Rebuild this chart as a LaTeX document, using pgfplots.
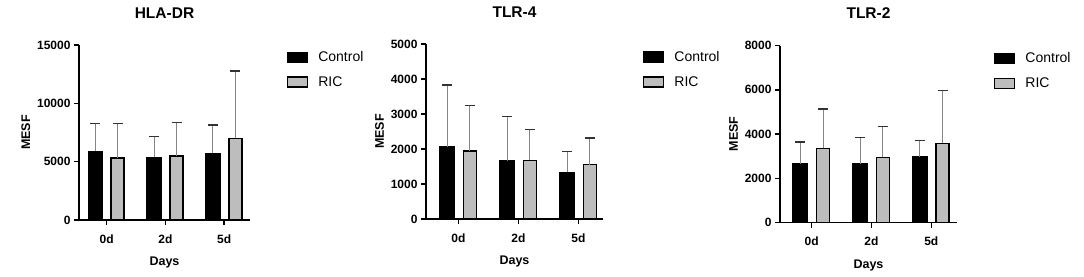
\documentclass[border=0pt]{standalone}
\usepackage{pgfplots}
\usepackage{pgfplotstable}
\pgfplotsset{compat=1.18}
\usepackage{fontspec}
\setmainfont{Liberation Sans}
\definecolor{ricgray}{HTML}{BDBDBD}
\definecolor{errgray}{HTML}{858585}

% columns: x, control mean, control SD (plus), RIC mean, RIC SD (plus)
\pgfplotstableread{
x cm ce rm re
0 5900 2390 5290 3000
1 5370 1780 5490 2880
2 5710 2430 7000 5770
}\hla
\pgfplotstableread{
x cm ce rm re
0 2057 1775 1943 1305
1 1655 1265 1676 880
2 1331 603 1552 765
}\tlrfour
\pgfplotstableread{
x cm ce rm re
0 2655 980 3352 1780
1 2655 1180 2945 1405
2 2972 745 3579 2385
}\tlrtwo

\pgfplotsset{
  panel/.style={
    scale only axis,
    axis x line*=bottom,
    axis y line*=left,
    axis line style={line width=1.5pt, -},
    every tick/.style={black, line width=1.5pt},
    major tick length=5pt,
    tick align=outside,
    ymin=0,
    xtick={0,1,2},
    xticklabels={0d,2d,5d},
    ticklabel style={font=\fontsize{12}{14}\selectfont\bfseries},
    xticklabel style={yshift=-6pt},
    /pgf/number format/assume math mode=true,
    /pgf/number format/1000 sep={},
    scaled y ticks=false,
    title style={at={(0.5,1)}, anchor=base, yshift=21pt, font=\fontsize{15.5}{18}\selectfont\bfseries},
    xlabel={Days},
    xlabel style={at={(0.5,0)}, anchor=base, yshift=-45.5pt, font=\fontsize{12.5}{15}\selectfont\bfseries},
    ylabel={MESF},
    ylabel style={font=\fontsize{12.5}{15}\selectfont\bfseries},
    legend style={draw=none, fill=none, anchor=north west,
      font=\fontsize{14}{16}\selectfont, row sep=9.5pt,
      /tikz/every odd column/.append style={column sep=8pt}},
    legend cell align=left,
    error bars/error bar style={line width=1pt, errgray},
    error bars/error mark options={rotate=90, mark size=5pt, line width=1.3pt, black!80},
  },
  ctrl/.style={ybar, bar width=14.5pt, bar shift=0pt, fill=black, draw=black, line width=1.2pt,
    error bars/.cd, y dir=plus, y explicit,
    /pgfplots/legend image code/.code={\draw[fill=black, draw=black, line width=1.3pt] (0pt,-5pt) rectangle (20pt,5pt);}},
  ric/.style={ybar, bar width=13pt, bar shift=0pt, fill=ricgray, draw=black, line width=1.6pt,
    error bars/.cd, y dir=plus, y explicit,
    /pgfplots/legend image code/.code={\draw[fill=ricgray, draw=black, line width=1.6pt] (0pt,-5pt) rectangle (20pt,5pt);}},
}

\begin{document}
\begin{tikzpicture}
\path[use as bounding box] (0,0) rectangle (1084pt,276pt);

\begin{axis}[panel, at={(79pt,56pt)}, anchor=south west, width=171pt, height=175pt,
  xmin=-0.47, xmax=2.44,
  ymax=15000, ytick={0,5000,10000,15000}, title={HLA-DR},
  legend style={at={(1.196,0.987)}}]
\addplot[ctrl] table[x expr=\thisrow{x}-0.19, y=cm, y error=ce]{\hla};
\addplot[ric] table[x expr=\thisrow{x}+0.19, y=rm, y error=re]{\hla};
\legend{Control, RIC}
\end{axis}

\begin{axis}[panel, at={(426pt,57pt)}, anchor=south west, width=177pt, height=175pt,
  xmin=-0.54, xmax=2.41,
  ymax=5000, ytick={0,1000,2000,3000,4000,5000}, title={TLR-4},
  legend style={at={(1.207,0.983)}}]
\addplot[ctrl] table[x expr=\thisrow{x}-0.19, y=cm, y error=ce]{\tlrfour};
\addplot[ric] table[x expr=\thisrow{x}+0.19, y=rm, y error=re]{\tlrfour};
\legend{Control, RIC}
\end{axis}

\begin{axis}[panel, at={(780pt,53.5pt)}, anchor=south west, width=177pt, height=177pt,
  xmin=-0.53, xmax=2.43,
  ymax=8000, ytick={0,2000,4000,6000,8000}, title={TLR-2},
  legend style={at={(1.19,0.983)}}]
\addplot[ctrl] table[x expr=\thisrow{x}-0.19, y=cm, y error=ce]{\tlrtwo};
\addplot[ric] table[x expr=\thisrow{x}+0.19, y=rm, y error=re]{\tlrtwo};
\legend{Control, RIC}
\end{axis}
\end{tikzpicture}
\end{document}
